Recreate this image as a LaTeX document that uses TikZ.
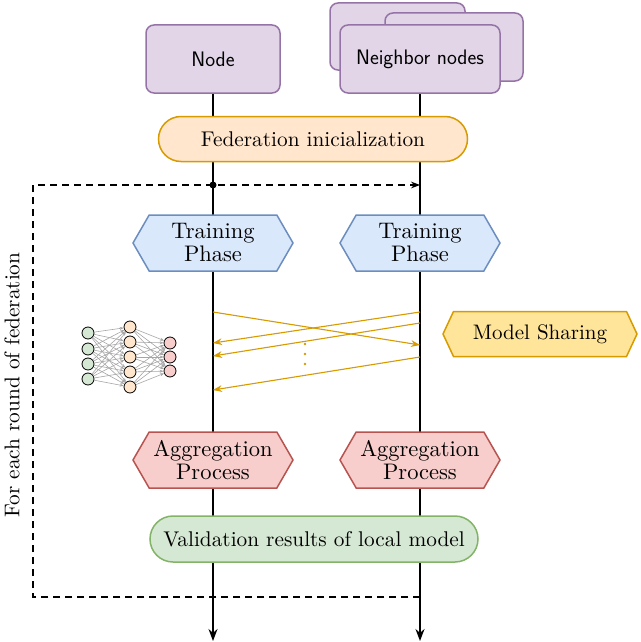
\documentclass[tikz,border=0pt]{standalone}
\usepackage{fontspec}
\setmainfont{lmroman10-regular.otf}
\usetikzlibrary{shapes.misc,shapes.geometric,shapes.symbols,arrows.meta}
\definecolor{pD}{HTML}{9673A6}\definecolor{pF}{HTML}{E1D5E7}
\definecolor{oD}{HTML}{D79B00}\definecolor{oF}{HTML}{FFE6CC}
\definecolor{bD}{HTML}{6C8EBF}\definecolor{bF}{HTML}{DAE8FC}
\definecolor{rD}{HTML}{B85450}\definecolor{rF}{HTML}{F8CECC}
\definecolor{yF}{HTML}{FFE599}
\definecolor{gD}{HTML}{82B366}\definecolor{gF}{HTML}{D5E8D4}
\begin{document}
\begin{tikzpicture}[x=1pt,y=-1pt,
 big/.style={font=\fontsize{21.3}{22}\selectfont},
 sf/.style={font=\sffamily\fontsize{21}{22}\selectfont},
 purp/.style={draw=pD,fill=pF,line width=1.5pt,rounded corners=8pt},
 hex/.style={signal,signal to=west and east,signal pointer angle=120,minimum width=160pt,minimum height=56pt,line width=1.5pt,font=\fontsize{22.5}{23}\selectfont,align=center,inner sep=1pt},
 train/.style={hex,draw=bD,fill=bF},
 aggr/.style={hex,draw=rD,fill=rF},
 pill/.style={rounded rectangle,line width=1.5pt,big,inner sep=2pt},
 life/.style={line width=1.5pt,-{Stealth[length=12pt,width=9pt]}},
 msg/.style={draw=oD,line width=1.1pt,-{Stealth[length=9pt]}},
 neu/.style={circle,draw=black,line width=0.8pt,minimum size=12pt,inner sep=0},
 lnk/.style={draw=gray!70,line width=0.6pt,-{Stealth[length=4pt]}}]
\useasboundingbox (0,0) rectangle (640,642);
% neighbour stack
\draw[purp] (330,3) rectangle (465,70);
\draw[purp] (385,13) rectangle (523,81);
\node[purp,minimum width=160pt,minimum height=68pt,sf] (nb) at (420,59) {Neighbor nodes};
\node[purp,minimum width=134pt,minimum height=68pt,sf] (nd) at (213,59) {Node};
\coordinate (ndend) at (213,641);
\coordinate (nbend) at (420,641);
\draw[life] (nd.south) -- (ndend);
\draw[life] (nb.south) -- (nbend);
% federation
\node[pill,draw=oD,fill=oF,minimum width=313pt,minimum height=45pt] (fed) at (313,139) {Federation inicialization};
% loop
\coordinate (ltop) at (420,185);
\coordinate (dot) at (213,185);
\draw[dash pattern=on 7pt off 5pt,line width=1.2pt,-{Stealth[length=9pt]}] (420,597) -- (33,597) -- (33,185) -- (ltop);
\fill (dot) circle (3.5pt);
\node[rotate=90,big] (lbl) at (12,385) {For each round of federation};
% training
\node[train] (t1) at (213,243) {Training\\Phase};
\node[train] (t2) at (420,243) {Training\\Phase};
% messages
\coordinate (a1) at (213,312); \coordinate (b1) at (420,345);
\coordinate (a2) at (420,312); \coordinate (b2) at (213,343);
\coordinate (a3) at (420,323); \coordinate (b3) at (213,356);
\coordinate (a4) at (420,357); \coordinate (b4) at (213,390);
\draw[msg] (a1) -- (b1);
\draw[msg] (a2) -- (b2);
\draw[msg] (a3) -- (b3);
\draw[msg] (a4) -- (b4);
\foreach \yy in {344,354,364} \fill[oD] (305,\yy) circle (1.4pt);
\node[signal,signal to=west and east,signal pointer angle=130,minimum width=194pt,minimum height=45pt,line width=1.5pt,draw=oD,fill=yF,font=\fontsize{21}{22}\selectfont] (ms) at (540,334) {Model Sharing};
% NN icon
\foreach \i/\yy in {1/333,2/349,3/364,4/379} \node[neu,fill=gF] (i\i) at (88,\yy) {};
\foreach \i/\yy in {1/327,2/342,3/357,4/372,5/387} \node[neu,fill=oF] (h\i) at (130,\yy) {};
\foreach \i/\yy in {1/343,2/357,3/371} \node[neu,fill=rF] (o\i) at (170,\yy) {};
\foreach \a in {1,...,4} \foreach \b in {1,...,5} \draw[lnk] (i\a) -- (h\b);
\foreach \a in {1,...,5} \foreach \b in {1,...,3} \draw[lnk] (h\a) -- (o\b);
% aggregation
\node[aggr] (g1) at (213,460) {Aggregation\\Process};
\node[aggr] (g2) at (420,460) {Aggregation\\Process};
% validation
\node[pill,draw=gD,fill=gF,minimum width=332pt,minimum height=46pt] (val) at (314,539) {Validation results of local model};
\end{tikzpicture}
\end{document}
